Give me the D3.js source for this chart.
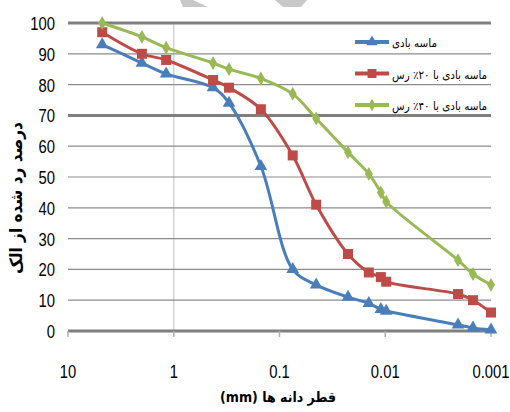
<!DOCTYPE html>
<html>
<head>
<meta charset="utf-8">
<script src="https://cdn.jsdelivr.net/npm/d3@7"></script>
<style>
  body { margin: 0; background: #fff; }
  svg { display: block; }
</style>
</head>
<body>
<svg id="chart" width="510" height="412"></svg>
<script>
// grain sizes (mm) shared by all three curves
var sizes = [4.75, 2.0, 1.18, 0.425, 0.3, 0.15, 0.075, 0.045, 0.0225, 0.0143, 0.011, 0.0098, 0.00205, 0.00148, 0.001]

var sandValues   = [93, 87, 83.5, 79, 74, 53.5, 20, 15, 11, 9, 7, 6.5, 2, 1, 0.4]
var clay20Values = [97, 90, 88, 81.5, 79, 72, 57, 41, 25, 19, 17.5, 16, 12, 10, 6]
var clay40Values = [100, 95.5, 92, 87, 85, 82, 77, 69, 58, 51, 45, 42, 23, 18.5, 15]

var seriesNames = ["ماسه بادی", "ماسه بادی با ۲۰٪ رس", "ماسه بادی با ۴۰٪ رس"]
var xTicks = [10, 1, 0.1, 0.01, 0.001]
var yTicks = [0, 10, 20, 30, 40, 50, 60, 70, 80, 90, 100]

var xTitle = "قطر دانه ها (mm)"
var yTitle = "درصد رد شده از الک"

//------------------------------------------------------------------------------
function draw() {

  var svg = d3.select("#chart")
  var m = { left: 68, right: 491, top: 23, bottom: 331 }
  var numFont = "'Liberation Sans',Arial,sans-serif"
  var faFont = "'DejaVu Sans Condensed','DejaVu Sans',sans-serif"

  var x = d3.scaleLog().domain([10, 0.001]).range([m.left, m.right])
  var y = d3.scaleLinear().domain([0, 100]).range([m.bottom, m.top])

  // watermark fragments at the top edge
  svg.append("polygon").attr("points", "180,0 193,0 208,7 183,7").attr("fill", "#c8c8c8")
  svg.append("polygon").attr("points", "275,0 307,0 301,7 283,7").attr("fill", "#c8c8c8")

  // vertical light line at 1 mm
  svg.append("line")
    .attr("x1", x(1)).attr("x2", x(1))
    .attr("y1", m.top).attr("y2", m.bottom + 5)
    .attr("stroke", "#d4d4d4").attr("stroke-width", 1.5)

  // horizontal grid
  svg.selectAll("line.grid")
    .data(yTicks)
    .enter().append("line")
      .attr("class", "grid")
      .attr("x1", m.left).attr("x2", m.right)
      .attr("y1", function(d){ return y(d) })
      .attr("y2", function(d){ return y(d) })
      .attr("stroke", function(d){ return (d == 0 || d == 70 || d == 100) ? "#7f7f7f" : "#8c8c8c" })
      .attr("stroke-width", function(d){ return (d == 0 || d == 70 || d == 100) ? 3 : 1.2 })

  // x ticks
  svg.selectAll("line.xtick")
    .data(xTicks)
    .enter().append("line")
      .attr("class", "xtick")
      .attr("x1", function(d){ return x(d) })
      .attr("x2", function(d){ return x(d) })
      .attr("y1", m.bottom).attr("y2", m.bottom + 6)
      .attr("stroke", "#b0b0b0").attr("stroke-width", 1.5)

  // narrow digits: squeeze horizontally
  svg.selectAll("text.xlab")
    .data(xTicks)
    .enter().append("text")
      .attr("class", "xlab")
      .attr("transform", function(d){ return "translate(" + x(d) + ",378) scale(0.78,1)" })
      .attr("text-anchor", "middle")
      .attr("font-family", numFont)
      .attr("font-size", 19)
      .attr("fill", "#000")
      .text(function(d){ return d })

  svg.selectAll("text.ylab")
    .data(yTicks)
    .enter().append("text")
      .attr("class", "ylab")
      .attr("transform", function(d){ return "translate(55," + (y(d) + 7) + ") scale(0.78,1)" })
      .attr("text-anchor", "end")
      .attr("font-family", numFont)
      .attr("font-size", 19)
      .attr("fill", "#000")
      .text(function(d){ return d })

  // axis titles
  svg.append("text")
    .attr("x", 278).attr("y", 402)
    .attr("direction", "rtl")
    .style("direction", "rtl")
    .attr("text-anchor", "middle")
    .attr("font-family", faFont)
    .attr("font-weight", "bold")
    .attr("font-size", 14)
    .text(xTitle)

  svg.append("text")
    .attr("transform", "translate(22,198) rotate(-90)")
    .attr("direction", "rtl")
    .style("direction", "rtl")
    .attr("text-anchor", "middle")
    .attr("font-family", faFont)
    .attr("font-weight", "bold")
    .attr("font-size", 17)
    .attr("letter-spacing", 1.5)
    .text(yTitle)

  //----------------------------------------------------------------------------
  // series (smoothed lines like the original spreadsheet chart)
  var series = [
    { name: seriesNames[0], values: sandValues,   color: "#4a7ebb", symbol: d3.symbolTriangle, size: 70 },
    { name: seriesNames[1], values: clay20Values, color: "#be4b48", symbol: d3.symbolSquare,   size: 100 },
    { name: seriesNames[2], values: clay40Values, color: "#98b954", symbol: d3.symbolDiamond,  size: 55 }
  ]

  var line = d3.line()
    .curve(d3.curveCatmullRom.alpha(0.5))
    .x(function(d){ return x(d[0]) })
    .y(function(d){ return y(d[1]) })

  series.forEach(function(s){
    var pts = sizes.map(function(v, i){ return [v, s.values[i]] })
    var g = svg.append("g")

    g.append("path")
      .attr("d", line(pts))
      .attr("fill", "none")
      .attr("stroke", s.color)
      .attr("stroke-width", 3)
      .attr("stroke-linejoin", "round")

    g.selectAll("path.mark")
      .data(pts)
      .enter().append("path")
        .attr("class", "mark")
        .attr("transform", function(d){ return "translate(" + x(d[0]) + "," + y(d[1]) + ")" })
        .attr("d", d3.symbol().type(s.symbol).size(s.size))
        .attr("fill", s.color)
  })

  // legend
  var legendY = [42, 73.5, 105]
  series.forEach(function(s, i){
    var ly = legendY[i]
    svg.append("line")
      .attr("x1", 355).attr("x2", 389)
      .attr("y1", ly).attr("y2", ly)
      .attr("stroke", s.color).attr("stroke-width", 4)
    svg.append("path")
      .attr("transform", "translate(372," + ly + ")")
      .attr("d", d3.symbol().type(s.symbol).size(s.size * 0.8))
      .attr("fill", s.color)
    svg.append("text")
      .attr("x", 392).attr("y", ly + 5)
      .attr("text-anchor", "start")
      .attr("font-family", faFont)
      .attr("font-size", 11.5)
      .text(s.name)
  })
}

draw()
</script>
</body>
</html>
